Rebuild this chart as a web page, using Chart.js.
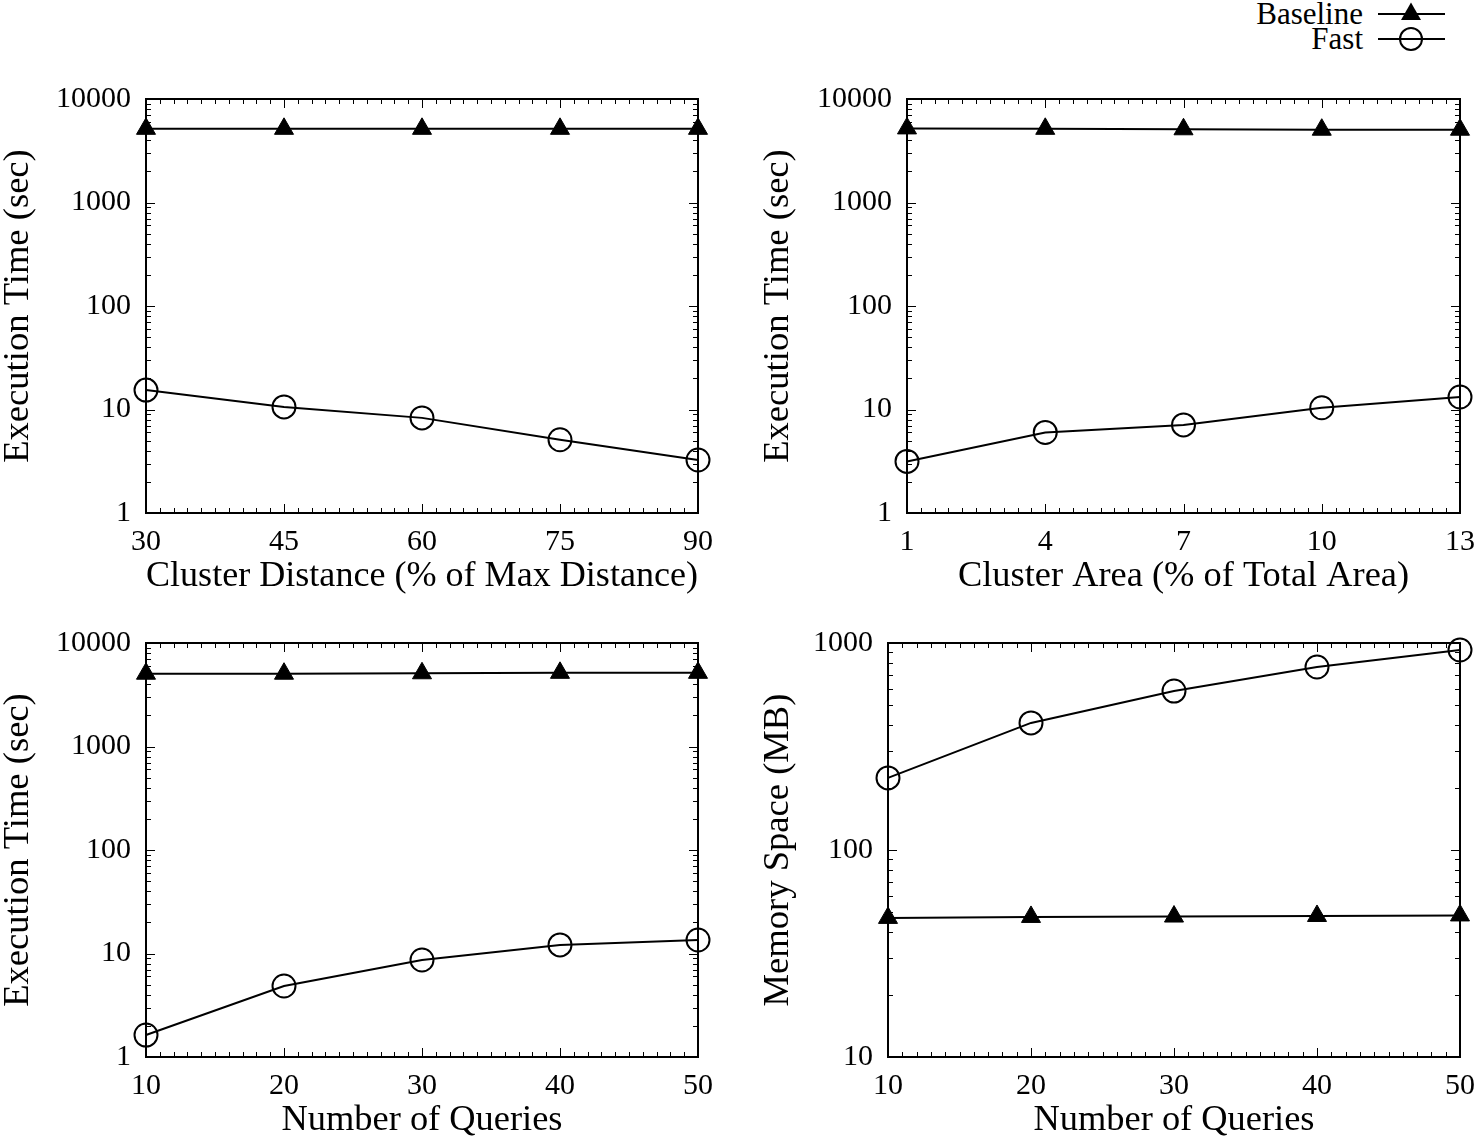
<!DOCTYPE html>
<html>
<head>
<meta charset="utf-8">
<script src="https://cdn.jsdelivr.net/npm/chart.js@4/dist/chart.umd.min.js"></script>
<style>
  html, body { margin: 0; padding: 0; background: #fff; }
  body { width: 1477px; height: 1141px; position: relative; overflow: hidden; font-family: 'Liberation Serif', 'Times New Roman', serif; }
  canvas { position: absolute; }
  #legend { position: absolute; left: 1180px; top: 0; width: 297px; height: 56px; }
  .lrow { position: absolute; height: 26px; display: flex; align-items: center; }
  .ltext { font-size: 31px; line-height: 26px; color: #000; margin-right: 14px; }
</style>
</head>
<body>
<canvas id="c1" width="740" height="535" style="left:0px;top:60px"></canvas>
<canvas id="c2" width="740" height="535" style="left:760px;top:60px"></canvas>
<canvas id="c3" width="740" height="535" style="left:0px;top:604px"></canvas>
<canvas id="c4" width="740" height="535" style="left:760px;top:604px"></canvas>
<div id="legend">
  <div class="lrow" style="top:1px;right:30px">
    <span class="ltext">Baseline</span>
    <svg width="70" height="26"><line x1="1" y1="13" x2="68" y2="13" stroke="#000" stroke-width="2"/><polygon points="34,1.5 44,19 24,19" fill="#000"/></svg>
  </div>
  <div class="lrow" style="top:26px;right:30px">
    <span class="ltext">Fast</span>
    <svg width="70" height="26"><line x1="1" y1="13" x2="68" y2="13" stroke="#000" stroke-width="2"/><circle cx="34" cy="13" r="11" fill="none" stroke="#000" stroke-width="2"/></svg>
  </div>
</div>
<script>
// ---- data ----
const seriesNames = ['Baseline', 'Fast'];

const distX = [30, 45, 60, 75, 90];
const distBaseline = [5150, 5150, 5150, 5150, 5150];
const distFast = [15.4, 10.6, 8.3, 5.1, 3.25];

const areaX = [1, 4, 7, 10, 13];
const areaBaseline = [5200, 5150, 5100, 5050, 5050];
const areaFast = [3.15, 6.0, 7.1, 10.4, 13.2];

const queryX = [10, 20, 30, 40, 50];
const queryTimeBaseline = [5050, 5050, 5100, 5150, 5150];
const queryTimeFast = [1.63, 4.85, 8.65, 12.1, 13.5];

const queryMemBaseline = [47, 47.5, 47.7, 48, 48.3];
const queryMemFast = [223, 411, 586, 766, 925];

const timeTicks = [1, 10, 100, 1000, 10000];
const memTicks = [10, 100, 1000];

const xLabelDist = 'Cluster Distance (% of Max Distance)';
const xLabelArea = 'Cluster Area (% of Total Area)';
const xLabelQueries = 'Number of Queries';
const yLabelTime = 'Execution Time (sec)';
const yLabelMem = 'Memory Space (MB)';

// ---- helpers ----
const FONT = "'Liberation Serif', 'Times New Roman', serif";

const frameTicks = {
  id: 'frameTicks',
  beforeDatasetsDraw(chart) {
    const { ctx, chartArea: a, scales: { x, y } } = chart;
    ctx.save();
    ctx.strokeStyle = '#000';
    ctx.lineWidth = 1;
    const major = 9, minor = 5;
    ctx.beginPath();
    const xs = x.ticks.map(t => t.value);
    const step = xs[1] - xs[0];
    const mstep = step / 10;
    for (let i = 0; i <= Math.round((x.max - x.min) / mstep); i++) {
      const v = x.min + i * mstep;
      const len = i % 10 === 0 ? major : minor;
      const p = Math.round(x.getPixelForValue(v)) + 0.5;
      ctx.moveTo(p, a.bottom); ctx.lineTo(p, a.bottom - len);
      ctx.moveTo(p, a.top); ctx.lineTo(p, a.top + len);
    }
    for (let d = y.min; d <= y.max + 1e-9; d *= 10) {
      for (let k = 1; k <= 9; k++) {
        const v = d * k;
        if (v > y.max * 1.0001) break;
        const len = k === 1 ? major : minor;
        const p = Math.round(y.getPixelForValue(v)) + 0.5;
        ctx.moveTo(a.left, p); ctx.lineTo(a.left + len, p);
        ctx.moveTo(a.right, p); ctx.lineTo(a.right - len, p);
      }
    }
    ctx.stroke();
    ctx.lineWidth = 2;
    ctx.strokeRect(a.left, a.top, a.right - a.left, a.bottom - a.top);
    ctx.restore();
  }
};

function makeChart(id, xs, base, fast, xTicks, yTicks, xTitle, yTitle, yWidth, areaRight) {
  const ctx = document.getElementById(id);
  return new Chart(ctx, {
    type: 'line',
    data: {
      datasets: [
        {
          label: seriesNames[0],
          data: xs.map((v, i) => ({ x: v, y: base[i] })),
          borderColor: '#000', borderWidth: 2,
          pointStyle: 'triangle', pointRadius: 11, pointHoverRadius: 11,
          pointBackgroundColor: '#000', pointBorderColor: '#000', pointBorderWidth: 1,
          fill: false, tension: 0, clip: false
        },
        {
          label: seriesNames[1],
          data: xs.map((v, i) => ({ x: v, y: fast[i] })),
          borderColor: '#000', borderWidth: 2,
          pointStyle: 'circle', pointRadius: 11.5, pointHoverRadius: 11.5,
          pointBackgroundColor: 'rgba(0,0,0,0)', pointBorderColor: '#000', pointBorderWidth: 2,
          fill: false, tension: 0, clip: false
        }
      ]
    },
    options: {
      responsive: false,
      animation: false,
      devicePixelRatio: 1,
      events: [],
      layout: { padding: { top: 39, right: ctx.width - areaRight, bottom: 0, left: 0 } },
      plugins: { legend: { display: false }, tooltip: { enabled: false } },
      scales: {
        x: {
          type: 'linear',
          min: xTicks[0], max: xTicks[xTicks.length - 1],
          afterBuildTicks: s => { s.ticks = xTicks.map(v => ({ value: v })); },
          afterFit: s => { s.height = 82; },
          grid: { display: false, drawTicks: false },
          border: { display: false },
          ticks: { color: '#000', font: { family: FONT, size: 30 }, padding: 11, maxRotation: 0, autoSkip: false },
          title: { display: true, text: xTitle, color: '#000', font: { family: FONT, size: 36.4, lineHeight: 1 }, padding: 0 }
        },
        y: {
          type: 'logarithmic',
          min: yTicks[0], max: yTicks[yTicks.length - 1],
          afterBuildTicks: s => { s.ticks = yTicks.map(v => ({ value: v })); },
          afterFit: s => { s.width = yWidth; },
          grid: { display: false, drawTicks: false },
          border: { display: false },
          ticks: { color: '#000', font: { family: FONT, size: 30 }, padding: 15, autoSkip: false, callback: v => String(v) },
          title: { display: true, text: yTitle, color: '#000', font: { family: FONT, size: 36.6, lineHeight: 1 }, padding: 0 }
        }
      }
    },
    plugins: [frameTicks]
  });
}

makeChart('c1', distX, distBaseline, distFast, distX, timeTicks, xLabelDist, yLabelTime, 146, 698);
makeChart('c2', areaX, areaBaseline, areaFast, areaX, timeTicks, xLabelArea, yLabelTime, 147, 700);
makeChart('c3', queryX, queryTimeBaseline, queryTimeFast, queryX, timeTicks, xLabelQueries, yLabelTime, 146, 698);
makeChart('c4', queryX, queryMemBaseline, queryMemFast, queryX, memTicks, xLabelQueries, yLabelMem, 128, 700);
</script>
</body>
</html>
